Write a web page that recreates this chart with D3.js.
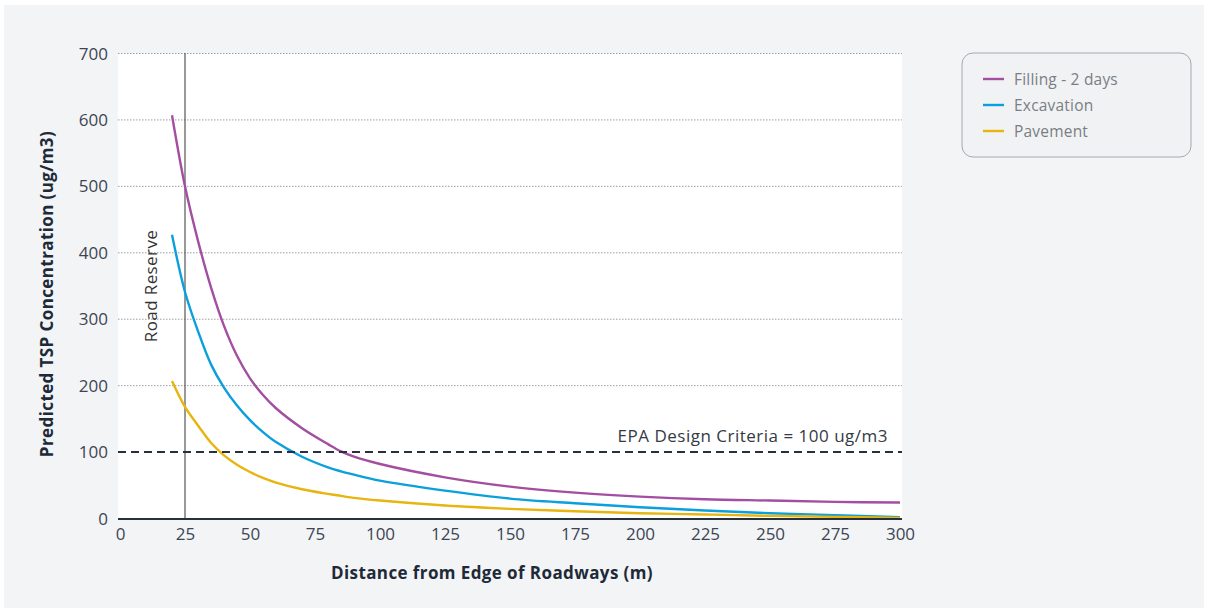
<!DOCTYPE html>
<html><head><meta charset="utf-8">
<script src="https://cdn.jsdelivr.net/npm/d3@7"></script>
<style>html,body{margin:0;padding:0;background:#fff;}svg{display:block;}</style>
</head><body>
<svg id="c" width="1208" height="612"></svg>
<script>
const distances = [20,25,30,35,40,45,50,55,60,70,80,85,90,100,125,150,175,200,225,250,275,300];
const filling =   [607,500,418,348,290,245,211,186,166,136,112,101,93,82,62,48,39,33,29,27,25,24];
const excavation =[427,341,282,232,197,170,148,130,115,93,77,71,66,57,42,30,23,17,12,8,5,2];
const pavement =  [207,168,140,114,95,81,70,61,54,44,37,34,31,27,19.5,14.5,11,8,6,4,2.5,1];
const seriesNames = ["Filling - 2 days","Excavation","Pavement"];
const seriesColors = ["#a34ea1","#0ba0dc","#e8b40e"];
const xTicks = [0,25,50,75,100,125,150,175,200,225,250,275,300];
const yTicks = [0,100,200,300,400,500,600,700];
const criteria = 100;
const roadReserve = 25;

const svg = d3.select("#c");
const font = "'Open Sans', sans-serif";
svg.append("rect").attr("x",4).attr("y",5).attr("width",1200).attr("height",603).attr("fill","#f3f4f6");

const x = d3.scaleLinear().domain([0,300]).range([120,900]);
const y = d3.scaleLinear().domain([0,700]).range([518.5,53.5]);

svg.append("rect").attr("x",118).attr("y",53).attr("width",784).attr("height",466).attr("fill","#fff");

// gridlines
svg.append("g").selectAll("line").data(yTicks.filter(d=>d>0 && d!==criteria)).join("line")
  .attr("x1",118).attr("x2",902).attr("y1",d=>y(d)).attr("y2",d=>y(d))
  .attr("stroke","#9a9ea4").attr("stroke-width",1).attr("stroke-dasharray","1.5,1.5");

// y tick labels
svg.append("g").selectAll("text").data(yTicks).join("text")
  .attr("x",108).attr("y",d=>y(d)).attr("dy","0.36em").attr("text-anchor","end")
  .attr("font-family",font).attr("font-size",17).attr("fill","#3c4553").text(d=>d);

// x tick labels
const xAxis = d3.axisBottom(x).tickValues(xTicks).tickSize(0).tickPadding(9);
const gx = svg.append("g").attr("transform","translate(0,519)").call(xAxis);
gx.select(".domain").remove();
gx.selectAll("text").attr("font-family",font).attr("font-size",17).attr("fill","#3c4553");

// road reserve line
svg.append("line").attr("x1",x(roadReserve)).attr("x2",x(roadReserve)).attr("y1",53).attr("y2",519)
  .attr("stroke","#555").attr("stroke-width",1.2);
svg.append("text").attr("transform",`translate(${x(roadReserve)-28},286) rotate(-90)`)
  .attr("text-anchor","middle").attr("font-family",font).attr("font-size",17)
  .attr("letter-spacing",0.4).attr("fill","#333")
  .text("Road Reserve");

// series
const line = d3.line().curve(d3.curveCatmullRom.alpha(0.5)).x(d=>x(d[0])).y(d=>y(d[1]));
[filling,excavation,pavement].forEach((vals,i)=>{
  svg.append("path").datum(distances.map((d,j)=>[d,vals[j]]))
    .attr("d",line).attr("fill","none").attr("stroke",seriesColors[i]).attr("stroke-width",2.4);
});

// criteria line
svg.append("line").attr("x1",118).attr("x2",902).attr("y1",y(criteria)).attr("y2",y(criteria))
  .attr("stroke","#27313d").attr("stroke-width",2).attr("stroke-dasharray","8,5");
svg.append("text").attr("x",888).attr("y",y(criteria)-10).attr("text-anchor","end")
  .attr("font-family",font).attr("font-size",17).attr("letter-spacing",0.5).attr("fill","#333a44")
  .text("EPA Design Criteria = 100 ug/m3");

// x axis line
svg.append("line").attr("x1",118).attr("x2",902).attr("y1",519).attr("y2",519)
  .attr("stroke","#27313d").attr("stroke-width",2);

// axis titles
svg.append("text").attr("transform","translate(53,294) rotate(-90)").attr("text-anchor","middle")
  .attr("font-family",font).attr("font-weight","bold").attr("font-size",17).attr("letter-spacing",0.4)
  .attr("fill","#1e2a38")
  .text("Predicted TSP Concentration (ug/m3)");
svg.append("text").attr("x",492).attr("y",579).attr("text-anchor","middle")
  .attr("font-family",font).attr("font-weight","bold").attr("font-size",17).attr("letter-spacing",0.4)
  .attr("fill","#1e2a38")
  .text("Distance from Edge of Roadways (m)");

// legend
const lg = svg.append("g");
lg.append("rect").attr("x",962).attr("y",53).attr("width",229).attr("height",104).attr("rx",11)
  .attr("fill","#f1f2f3").attr("stroke","#a5a8ad").attr("stroke-width",1);
seriesNames.forEach((n,i)=>{
  const yy = 79 + i*26;
  lg.append("line").attr("x1",983).attr("x2",1004).attr("y1",yy).attr("y2",yy)
    .attr("stroke",seriesColors[i]).attr("stroke-width",2.4);
  lg.append("text").attr("x",1014).attr("y",yy).attr("dy","0.36em")
    .attr("font-family",font).attr("font-size",15.5).attr("letter-spacing",0.2)
    .attr("fill","#7a7e85").text(n);
});
</script>
</body></html>
